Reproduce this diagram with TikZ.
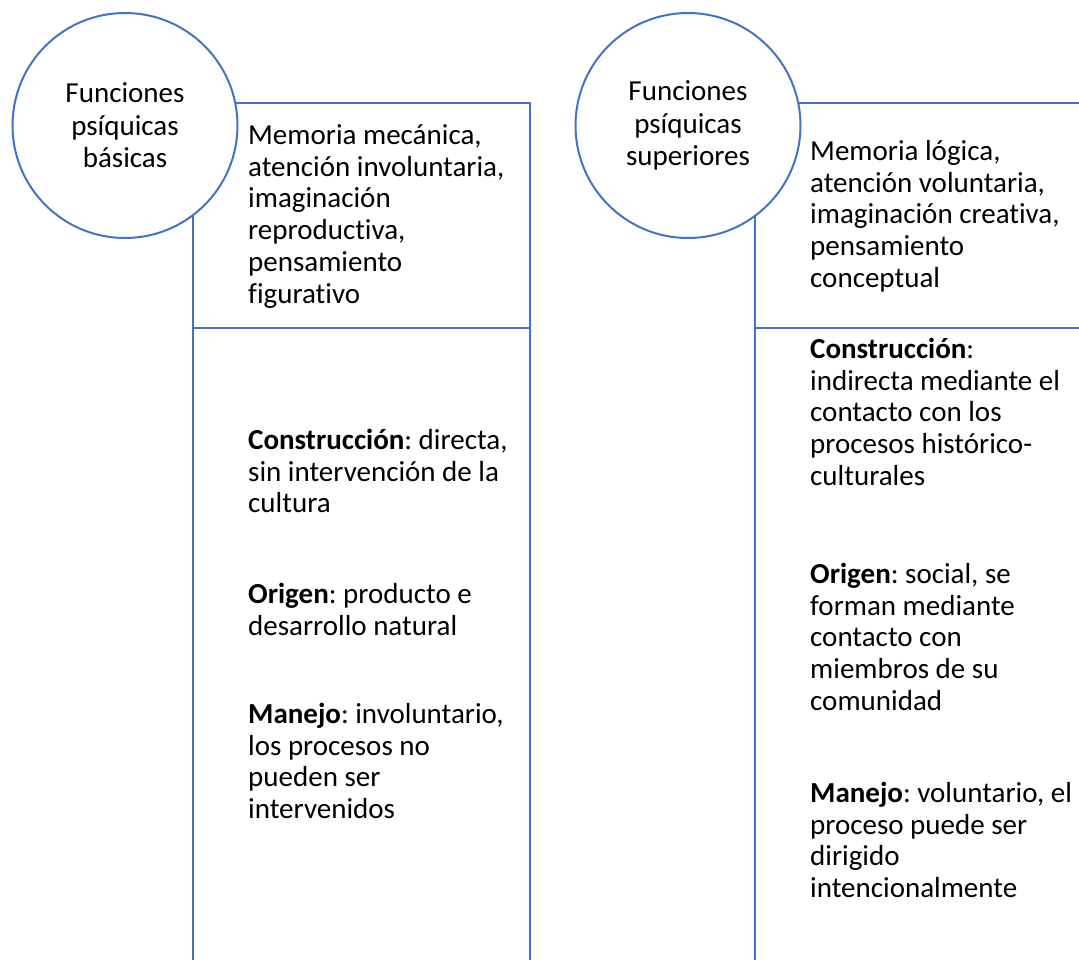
\documentclass[tikz,border=0pt]{standalone}
\usepackage{fontspec}
\setmainfont{Carlito}[Ligatures=NoCommon]
\frenchspacing
\definecolor{ln}{HTML}{4472C4}
\begin{document}
\begin{tikzpicture}[x=1pt,y=-1pt,
  frame/.style={draw=ln,line width=2pt},
  circ/.style={circle,draw=ln,line width=2pt,fill=white,minimum size=225pt,inner sep=0pt,align=center,font=\fontsize{29}{32.5}\selectfont},
  txt/.style={anchor=north west,align=left,inner sep=0pt,font=\fontsize{29}{31.8}\selectfont\frenchspacing}]
\useasboundingbox (0,0) rectangle (1079,960);
\clip (0,0) rectangle (1079,960);
% frames
\draw[frame] (193,975) -- (193,103) -- (530,103) -- (530,975);
\draw[frame] (193,328) -- (530,328);
\draw[frame] (755,975) -- (755,103) -- (1095,103);
\draw[frame] (755,328) -- (1095,328);
% circles
\node[circ] (c1) at (125,125.5) {Funciones\\psíquicas\\básicas};
\node[circ] (c2) at (688,125.5) {Funciones\\psíquicas\\superiores};
% left texts
\node[txt] (l1) at (248,120) {\rule{0pt}{24pt}Memoria mecánica,\\atención involuntaria,\\imaginación\\reproductiva,\\pensamiento\\figurativo};
\node[txt] (l2) at (248,425) {\rule{0pt}{24pt}\textbf{Construcción}: directa,\\sin intervención de la\\cultura};
\node[txt] (l3) at (248,579) {\rule{0pt}{24pt}\textbf{Origen}: producto e\\desarrollo natural};
\node[txt] (l4) at (248,699) {\rule{0pt}{24pt}\textbf{Manejo}: involuntario,\\los procesos no\\pueden ser\\intervenidos};
% right texts
\node[txt] (r1) at (810,136) {\rule{0pt}{24pt}Memoria lógica,\\atención voluntaria,\\imaginación creativa,\\pensamiento\\conceptual};
\node[txt] (r2) at (810,334) {\rule{0pt}{24pt}\textbf{Construcción}:\\indirecta mediante el\\contacto con los\\procesos histórico-\\culturales};
\node[txt] (r3) at (810,559) {\rule{0pt}{24pt}\textbf{Origen}: social, se\\forman mediante\\contacto con\\miembros de su\\comunidad};
\node[txt] (r4) at (810,778) {\rule{0pt}{24pt}\textbf{Manejo}: voluntario, el\\proceso puede ser\\dirigido\\intencionalmente};
\end{tikzpicture}
\end{document}
